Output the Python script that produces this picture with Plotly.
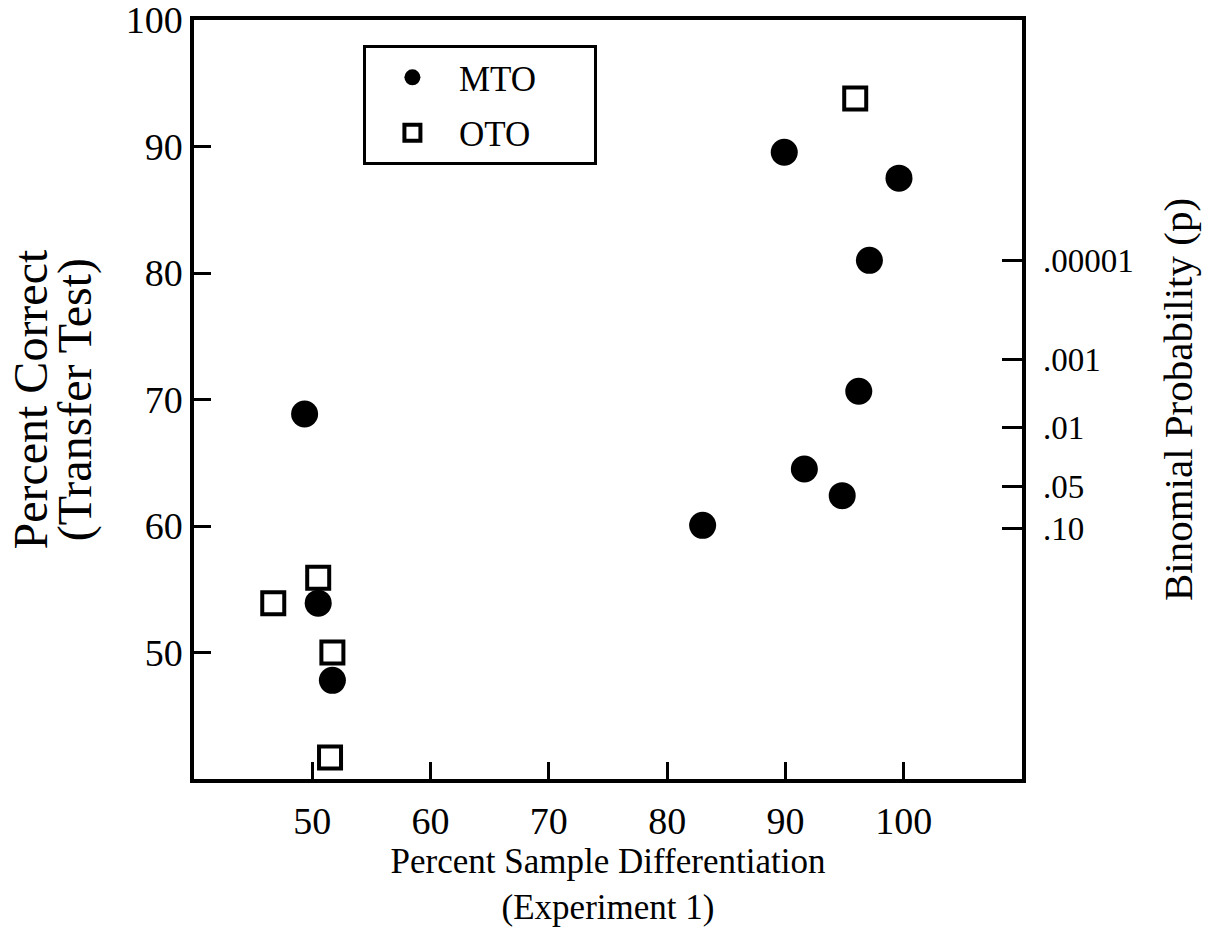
import plotly.graph_objects as go

# Percent sample differentiation (Experiment 1) vs percent correct on the transfer test
mto_x = [49.35, 50.5, 51.7, 83.0, 89.9, 91.6, 94.8, 96.2, 97.1, 99.6]
mto_y = [68.85, 53.9, 47.8, 60.05, 89.55, 64.5, 62.4, 70.65, 81.0, 87.5]

oto_x = [46.7, 50.5, 51.7, 51.5, 95.9]
oto_y = [53.9, 55.9, 50.0, 41.7, 93.8]

x_ticks = [50, 60, 70, 80, 90, 100]
y_ticks = [50, 60, 70, 80, 90, 100]

# Percent-correct levels that correspond to binomial probability thresholds
p_levels = [81.0, 73.2, 67.8, 63.1, 59.8]
p_labels = [".00001", ".001", ".01", ".05", ".10"]

y_title_lines = ["Percent Correct", "(Transfer Test)"]

FONT = "Liberation Serif"
PAD = "\u00a0" * 6

fig = go.Figure()
fig.add_trace(go.Scatter(
    x=mto_x, y=mto_y, mode="markers", name="MTO" + PAD, legendgroup="a",
    marker=dict(symbol="circle", size=27, color="black", line=dict(width=0)),
))
fig.add_trace(go.Scatter(
    x=oto_x, y=oto_y, mode="markers", name="OTO" + PAD, legendgroup="b",
    marker=dict(symbol="square-open", size=22, color="black", line=dict(width=4, color="black")),
))
# invisible trace that carries the right-hand probability axis
fig.add_trace(go.Scatter(
    x=[None], y=[None], yaxis="y2", showlegend=False, hoverinfo="skip",
))

axis_common = dict(
    showgrid=False, zeroline=False, showline=True, linecolor="black", linewidth=3.5,
    ticks="inside", tickcolor="black", tickwidth=3, ticklen=17,
    tickfont=dict(family=FONT, size=38, color="black"),
    automargin=False, ticklabeloverflow="allow",
)

fig.update_layout(
    width=1220, height=952,
    margin=dict(l=194, r=198, t=20, b=173),
    paper_bgcolor="white", plot_bgcolor="white",
    font=dict(family=FONT, color="black"),
    xaxis=dict(
        range=[40, 110], tickvals=x_ticks, mirror=True, ticklabelstandoff=6,
        title=dict(text="Percent Sample Differentiation<br>(Experiment 1)",
                   font=dict(family=FONT, size=35, color="black"), standoff=0),
        **axis_common,
    ),
    yaxis=dict(
        range=[40, 100], tickvals=y_ticks, mirror=True,
        **axis_common,
    ),
    yaxis2=dict(
        overlaying="y", side="right", range=[40, 100],
        tickvals=p_levels, ticktext=p_labels,
        showgrid=False, zeroline=False, showline=False, automargin=False,
        ticks="inside", tickcolor="black", tickwidth=3, ticklen=20,
        ticklabelstandoff=20, ticklabeloverflow="allow",
        tickfont=dict(family=FONT, size=33, color="black"),
        title=dict(text="Binomial Probability (p)",
                   font=dict(family=FONT, size=41, color="black"), standoff=30),
    ),
    legend=dict(
        x=0.204, y=0.967, xanchor="left", yanchor="top",
        bgcolor="white", bordercolor="black", borderwidth=3,
        font=dict(family=FONT, size=35, color="black"),
        itemwidth=83, tracegroupgap=7,
    ),
    showlegend=True,
)

# left axis title, set as two rotated lines with tight leading
for line, xpos in zip(y_title_lines, [-0.198, -0.144]):
    fig.add_annotation(
        text=line, textangle=-90, xref="paper", yref="paper",
        x=xpos, y=0.5, xanchor="center", yanchor="middle", showarrow=False,
        font=dict(family=FONT, size=48, color="black"),
    )

fig.write_html("out.html")
